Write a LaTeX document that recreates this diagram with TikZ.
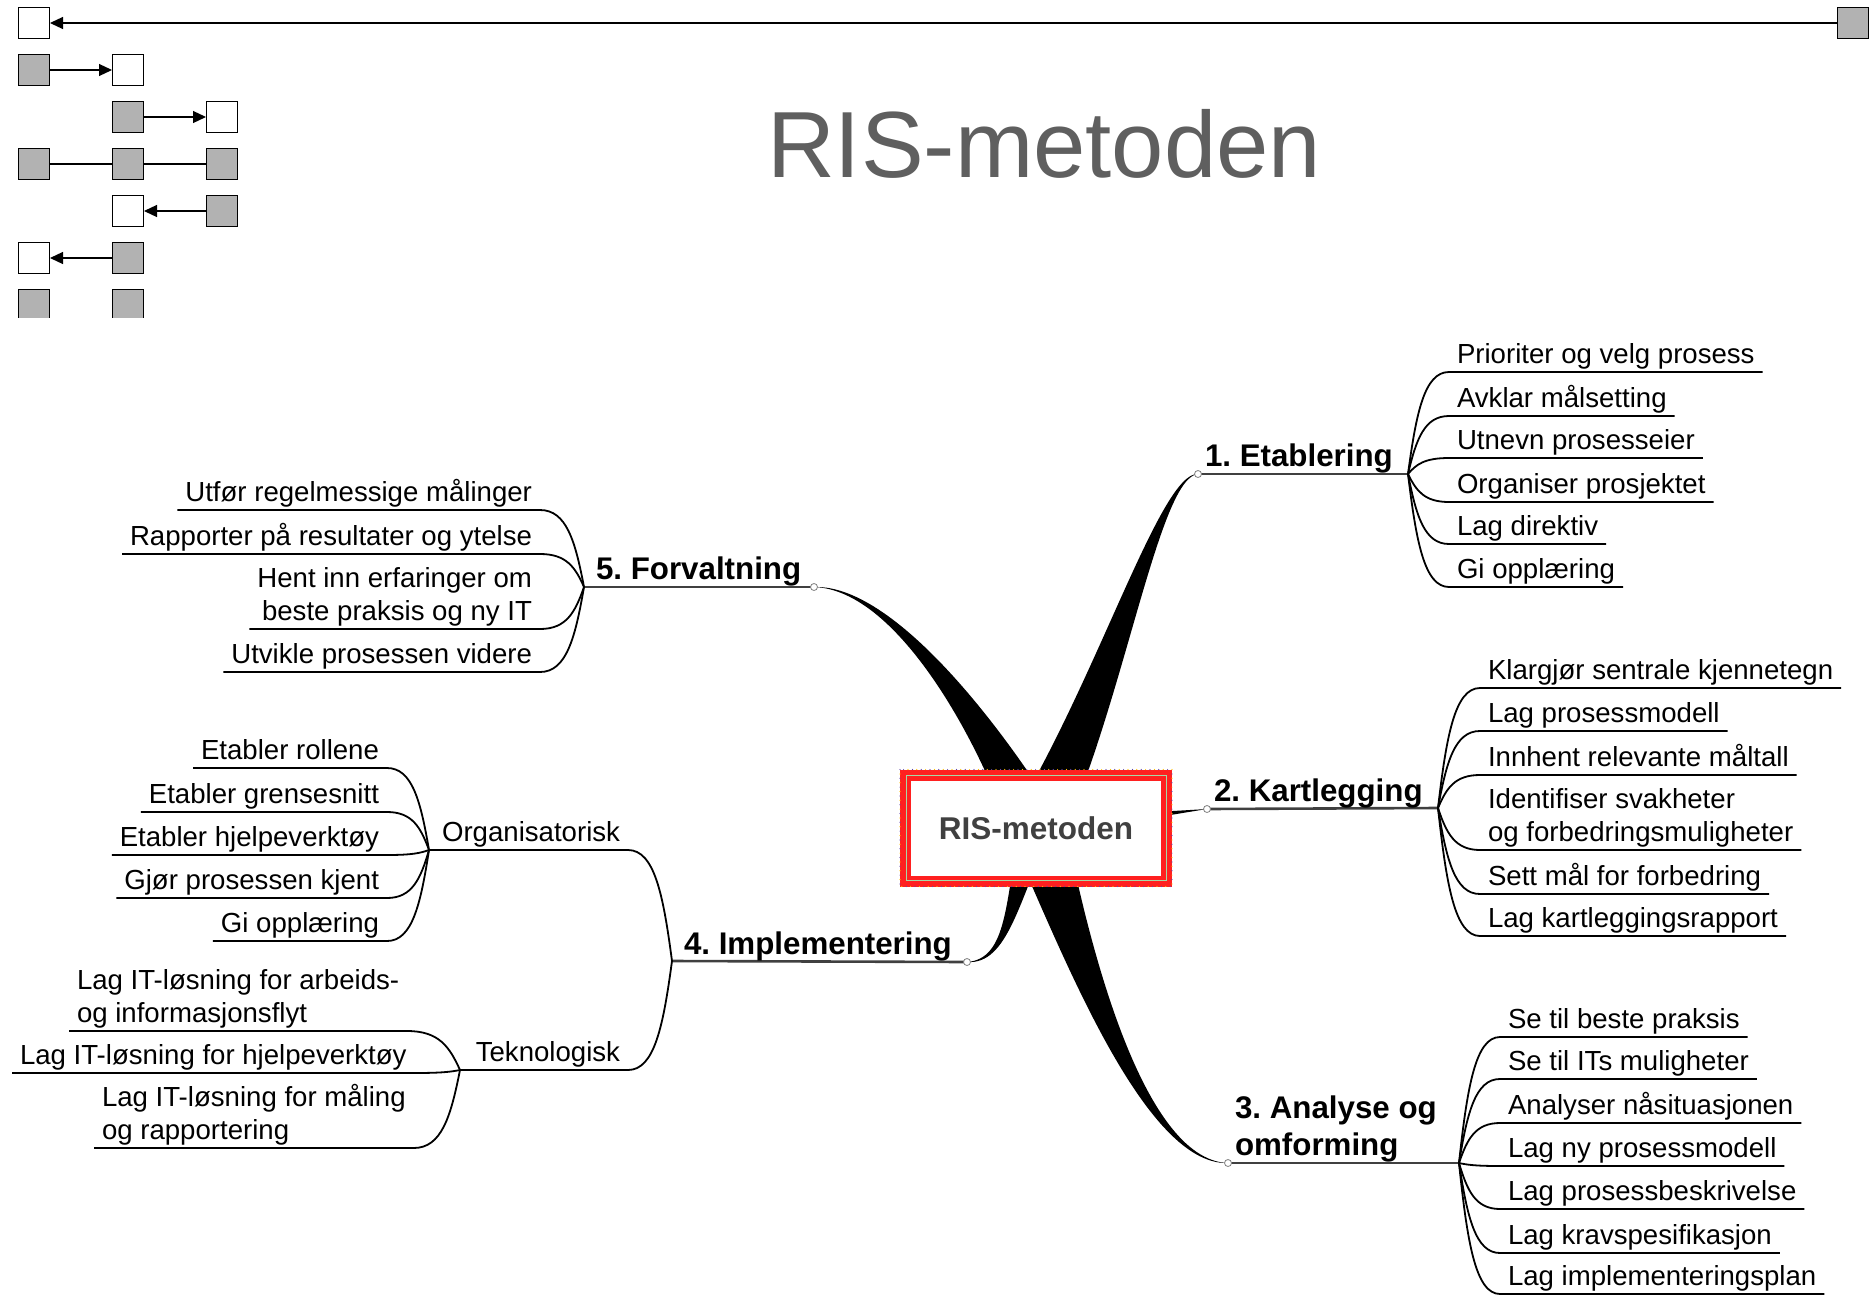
\documentclass[tikz,border=0pt]{standalone}
\usepackage{fontspec}
\setmainfont{Liberation Sans}
\usetikzlibrary{arrows.meta,calc}
\definecolor{titlegray}{RGB}{95,95,95}
\definecolor{hubtext}{RGB}{64,64,64}
\definecolor{boxred}{RGB}{255,32,32}
\definecolor{dotblue}{RGB}{100,70,170}
\definecolor{dotyellow}{RGB}{255,190,0}
\definecolor{navgray}{RGB}{178,178,178}
\tikzset{navbox/.style={draw,line width=.7pt,minimum size=15.3pt,inner sep=0pt},
  navg/.style={navbox,fill=navgray},
  navw/.style={navbox,fill=white},
  navarrow/.style={-{Triangle[length=6.5pt,width=6pt]},line width=.6pt},
  leaf/.style={font=\fontsize{13.8pt}{16.5pt}\selectfont,inner xsep=4pt,inner ysep=4.5pt,text depth=0pt,outer sep=0pt},
  leafl/.style={leaf,anchor=south west,align=left},
  leafr/.style={leaf,anchor=south east,align=right},
  branch/.style={font=\bfseries\fontsize{15.65pt}{18.5pt}\selectfont,inner xsep=3.5pt,inner ysep=4pt,text depth=0pt,outer sep=0pt,anchor=south west,align=left},
  twig/.style={line width=.9pt},
  stem/.style={line width=1.3pt,black!75},
  knot/.style={circle,draw=gray,fill=white,line width=.4pt,inner sep=0pt,minimum size=3.5pt},
  hubbox/.style={draw=boxred,line width=5.5pt,fill=white,minimum width=130.5pt,minimum height=53pt,inner sep=0pt,
    font=\bfseries\fontsize{15.75pt}{18pt}\selectfont,text=hubtext},
  dots/.style={line width=.6pt,line cap=round,dash pattern=on 0pt off 4.4pt}}

\begin{document}
\frenchspacing
\begin{tikzpicture}[x=0.5pt,y=-0.5pt]
  \useasboundingbox (0,0) rectangle (1870,1296);
  % navigation icon
  \node[navw] (n1a) at (34,23) {};
  \node[navg] (nend) at (1853,23) {};
  \draw[navarrow] (nend) -- (n1a);
  \node[navg] (n2a) at (34,70) {};
  \node[navw] (n2b) at (128,70) {};
  \draw[navarrow] (n2a) -- (n2b);
  \node[navg] (n3b) at (128,117) {};
  \node[navw] (n3c) at (222,117) {};
  \draw[navarrow] (n3b) -- (n3c);
  \node[navg] (n4a) at (34,164) {};
  \node[navg] (n4b) at (128,164) {};
  \node[navg] (n4c) at (222,164) {};
  \draw[line width=.6pt] (n4a) -- (n4b) -- (n4c);
  \node[navw] (n5b) at (128,211) {};
  \node[navg] (n5c) at (222,211) {};
  \draw[navarrow] (n5c) -- (n5b);
  \node[navw] (n6a) at (34,258) {};
  \node[navg] (n6b) at (128,258) {};
  \draw[navarrow] (n6b) -- (n6a);
  \begin{scope}
    \clip (0,280) rectangle (260,317);
    \node[navg] (n7a) at (34,305) {};
    \node[navg] (n7b) at (128,305) {};
  \end{scope}
  \node[font=\fontsize{47pt}{56pt}\selectfont,text=titlegray,anchor=base,inner sep=0pt] (head) at (1044,177) {RIS-metoden};

  % junctions and fans
  \coordinate (hub) at (1036,828);
  \coordinate (c1) at (1198,474);
  \coordinate (c2) at (1207,809);
  \coordinate (c3) at (1228,1163);
  \coordinate (c4) at (967,962);
  \coordinate (c5) at (814,587);
  \coordinate (f1) at (1408,474);
  \coordinate (f2) at (1438,808);
  \coordinate (f3) at (1459,1163);
  \coordinate (f4) at (672,961);
  \coordinate (f5) at (584,587);
  \coordinate (forg) at (429,850);
  \coordinate (ftek) at (460,1070);

  % tapered main connectors
  \fill (c1) .. controls (1160,471) and (1094,690) .. ($(hub)+(-30,0)$)
    -- ($(hub)+(30,0)$) .. controls (1126,690) and (1160,477) .. (c1) -- cycle;
  \fill (c3) .. controls (1140,1166) and (1054,930) .. ($(hub)+(-30,0)$)
    -- ($(hub)+(30,0)$) .. controls (1086,930) and (1140,1160) .. (c3) -- cycle;
  \fill (c5) .. controls (900,590) and (982,750) .. ($(hub)+(-28,0)$)
    -- ($(hub)+(28,0)$) .. controls (1018,750) and (900,584) .. (c5) -- cycle;
  \fill (c4) .. controls (1008,965) and (1019,900) .. ($(hub)+(16,0)$)
    -- ($(hub)+(-16,0)$) .. controls (1005,900) and (1008,959) .. (c4) -- cycle;
  \fill (c2) -- ($(hub)+(0,-9)$) -- ($(hub)+(0,9)$) -- cycle;

  \node[hubbox] (ris) at (hub) {RIS-metoden};
  \draw[dotblue,dots] (ris.north west) rectangle (ris.south east);
  \draw[dotyellow,dots,dash phase=2.2pt] (ris.north west) rectangle (ris.south east);
  \draw[green!40!gray!50,line width=.4pt] ($(ris.north west)+(6,6)$) rectangle ($(ris.south east)+(-6,-6)$);

  % branches
  \draw[stem] (c1) -- (f1);
  \draw[stem] (c2) -- (f2);
  \draw[stem] (c3) -- (f3);
  \draw[stem] (c4) -- (f4);
  \draw[stem] (c5) -- (f5);
  \node[branch] (etab) at (c1) {1. Etablering};
  \node[branch] (kart) at (c2) {2. Kartlegging};
  \node[branch] (anal) at (c3) {3. Analyse og\\omforming};
  \node[branch] (impl) at (677,962) {4. Implementering};
  \node[branch] (forv) at (589,587) {5. Forvaltning};
  \foreach \c in {c1,c2,c3,c4,c5}{\node[knot] (k\c) at (\c) {};}

  % 1. Etablering
  \node[leafl] (e1) at (1449,372) {Prioriter og velg prosess};
  \node[leafl] (e2) at (1449,416) {Avklar målsetting};
  \node[leafl] (e3) at (1449,458) {Utnevn prosesseier};
  \node[leafl] (e4) at (1449,502) {Organiser prosjektet};
  \node[leafl] (e5) at (1449,544) {Lag direktiv};
  \node[leafl] (e6) at (1449,587) {Gi opplæring};
  \foreach \i in {1,...,6}
    \draw[twig] (f1) .. controls ($(f1)!.5!(f1 |- e\i.south west)!.2!(e\i.south west)$) and ($(f1 |- e\i.south west)!.4!(e\i.south west)$) .. (e\i.south west) -- (e\i.south east);

  % 2. Kartlegging
  \node[leafl] (r1) at (1480,688) {Klargjør sentrale kjennetegn};
  \node[leafl] (r2) at (1480,731) {Lag prosessmodell};
  \node[leafl] (r3) at (1480,775) {Innhent relevante måltall};
  \node[leafl] (r4) at (1480,850) {Identifiser svakheter\\og forbedringsmuligheter};
  \node[leafl] (r5) at (1480,894) {Sett mål for forbedring};
  \node[leafl] (r6) at (1480,936) {Lag kartleggingsrapport};
  \foreach \i in {1,...,6}
    \draw[twig] (f2) .. controls ($(f2)!.5!(f2 |- r\i.south west)!.2!(r\i.south west)$) and ($(f2 |- r\i.south west)!.4!(r\i.south west)$) .. (r\i.south west) -- (r\i.south east);

  % 3. Analyse og omforming
  \node[leafl] (a1) at (1500,1037) {Se til beste praksis};
  \node[leafl] (a2) at (1500,1079) {Se til ITs muligheter};
  \node[leafl] (a3) at (1500,1123) {Analyser nåsituasjonen};
  \node[leafl] (a4) at (1500,1166) {Lag ny prosessmodell};
  \node[leafl] (a5) at (1500,1209) {Lag prosessbeskrivelse};
  \node[leafl] (a6) at (1500,1253) {Lag kravspesifikasjon};
  \node[leafl] (a7) at (1500,1294) {Lag implementeringsplan};
  \foreach \i in {1,...,7}
    \draw[twig] (f3) .. controls ($(f3)!.5!(f3 |- a\i.south west)!.2!(a\i.south west)$) and ($(f3 |- a\i.south west)!.4!(a\i.south west)$) .. (a\i.south west) -- (a\i.south east);

  % 5. Forvaltning
  \node[leafr] (v1) at (540,510) {Utfør regelmessige målinger};
  \node[leafr] (v2) at (540,554) {Rapporter på resultater og ytelse};
  \node[leafr] (v3) at (540,629) {Hent inn erfaringer om\\beste praksis og ny IT};
  \node[leafr] (v4) at (540,672) {Utvikle prosessen videre};
  \foreach \i in {1,...,4}
    \draw[twig] (f5) .. controls ($(f5)!.5!(f5 |- v\i.south east)!.2!(v\i.south east)$) and ($(f5 |- v\i.south east)!.4!(v\i.south east)$) .. (v\i.south east) -- (v\i.south west);

  % 4. Implementering
  \node[leafr] (org) at (628,850) {Organisatorisk};
  \node[leafr] (tek) at (628,1070) {Teknologisk};
  \draw[twig] (forg) -- (org.south east) .. controls ($(f4 |- org.south east)!.4!(org.south east)$) and ($(f4)!.5!(f4 |- org.south east)!.2!(org.south east)$) .. (f4);
  \draw[twig] (ftek) -- (tek.south east) .. controls ($(f4 |- tek.south east)!.4!(tek.south east)$) and ($(f4)!.5!(f4 |- tek.south east)!.2!(tek.south east)$) .. (f4);
  \node[leafr] (o1) at (387,768) {Etabler rollene};
  \node[leafr] (o2) at (387,812) {Etabler grensesnitt};
  \node[leafr] (o3) at (387,855) {Etabler hjelpeverktøy};
  \node[leafr] (o4) at (387,898) {Gjør prosessen kjent};
  \node[leafr] (o5) at (387,941) {Gi opplæring};
  \foreach \i in {1,...,5}
    \draw[twig] (forg) .. controls ($(forg)!.5!(forg |- o\i.south east)!.2!(o\i.south east)$) and ($(forg |- o\i.south east)!.4!(o\i.south east)$) .. (o\i.south east) -- (o\i.south west);
  \node[leafl] (t1) at (69,1031) {Lag IT-løsning for arbeids-\\og informasjonsflyt};
  \node[leafl] (t2) at (12,1073) {Lag IT-løsning for hjelpeverktøy};
  \node[leafl] (t3) at (94,1148) {Lag IT-løsning for måling\\og rapportering};
  \foreach \i in {1,...,3}
    \draw[twig] (ftek) .. controls ($(ftek)!.5!(ftek |- t\i.south east)!.2!(t\i.south east)$) and ($(ftek |- t\i.south east)!.4!(t\i.south east)$) .. (t\i.south east) -- (t\i.south west);
\end{tikzpicture}
\end{document}
